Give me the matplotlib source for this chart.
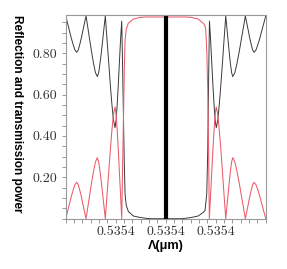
import numpy as np
import matplotlib
matplotlib.use("Agg")
import matplotlib.pyplot as plt
from matplotlib.ticker import MultipleLocator, FuncFormatter

# centre wavelength (um) and the wavelength step between labelled ticks
lam_centre = 0.5354
lam_step = 1e-5

# reflection (red), positions in tick-steps from the centre
refl_pos = [-2.000, -1.963, -1.927, -1.890, -1.853, -1.817, -1.780,
            -1.749, -1.718, -1.687, -1.656, -1.625, -1.594,
            -1.556, -1.519, -1.481, -1.443, -1.406, -1.368,
            -1.341, -1.315, -1.288, -1.261, -1.235, -1.208,
            -1.176, -1.143, -1.111, -1.079, -1.046, -1.014,
            -0.992, -0.969, -0.947, -0.925, -0.902, -0.880,
            -0.864, -0.848, -0.830, -0.814, -0.790, -0.748,
            -0.648, -0.514, -0.400,
            0.400, 0.514, 0.648, 0.748, 0.780, 0.800, 0.822, 0.840, 0.856,
            0.872, 0.895, 0.918, 0.941, 0.964, 0.987, 1.010,
            1.042, 1.073, 1.105, 1.137, 1.168, 1.200,
            1.223, 1.247, 1.270, 1.293, 1.317, 1.340,
            1.382, 1.424, 1.466, 1.508, 1.550, 1.592,
            1.621, 1.650, 1.679, 1.708, 1.737, 1.766,
            1.805, 1.844, 1.883, 1.922, 1.961, 2.000]
refl_val = [0.0, 0.035, 0.070, 0.106, 0.137, 0.164, 0.176,
            0.164, 0.137, 0.106, 0.070, 0.035, 0.0,
            0.059, 0.118, 0.177, 0.230, 0.274, 0.295,
            0.274, 0.230, 0.177, 0.118, 0.059, 0.0,
            0.108, 0.216, 0.324, 0.421, 0.502, 0.54,
            0.502, 0.421, 0.324, 0.216, 0.108, 0.0,
            0.23, 0.45, 0.70, 0.86, 0.915, 0.945,
            0.965, 0.973, 0.975,
            0.975, 0.973, 0.965, 0.945, 0.935, 0.915, 0.80, 0.62, 0.35,
            0.0, 0.108, 0.216, 0.324, 0.421, 0.502, 0.54,
            0.502, 0.421, 0.324, 0.216, 0.108, 0.0,
            0.059, 0.118, 0.177, 0.230, 0.274, 0.295,
            0.274, 0.230, 0.177, 0.118, 0.059, 0.0,
            0.035, 0.070, 0.106, 0.137, 0.164, 0.176,
            0.164, 0.137, 0.106, 0.070, 0.035, 0.0]

# transmission (black)
trans_pos = [-2.000, -1.963, -1.927, -1.890, -1.853, -1.817, -1.780,
             -1.749, -1.718, -1.687, -1.656, -1.625, -1.594,
             -1.556, -1.519, -1.481, -1.443, -1.406, -1.368,
             -1.341, -1.315, -1.288, -1.261, -1.235, -1.208,
             -1.176, -1.143, -1.111, -1.079, -1.046, -1.014,
             -0.992, -0.969, -0.947, -0.925, -0.902, -0.880,
             -0.864, -0.848, -0.830, -0.814, -0.790, -0.748,
             -0.648, -0.514, -0.400, -0.300,
             0.300, 0.400, 0.514, 0.648, 0.748, 0.786, 0.820, 0.840, 0.860,
             0.874, 0.895, 0.918, 0.941, 0.964, 0.987, 1.010,
             1.042, 1.073, 1.105, 1.137, 1.168, 1.200,
             1.223, 1.247, 1.270, 1.293, 1.317, 1.340,
             1.382, 1.424, 1.466, 1.508, 1.550, 1.592,
             1.621, 1.650, 1.679, 1.708, 1.737, 1.766,
             1.805, 1.844, 1.883, 1.922, 1.961, 2.000]
trans_val = [0.98, 0.945, 0.91, 0.874, 0.843, 0.816, 0.804,
             0.816, 0.843, 0.874, 0.91, 0.945, 0.98,
             0.921, 0.862, 0.803, 0.75, 0.706, 0.687,
             0.706, 0.75, 0.803, 0.862, 0.921, 0.98,
             0.872, 0.764, 0.656, 0.559, 0.478, 0.44,
             0.478, 0.559, 0.656, 0.764, 0.872, 0.955,
             0.75, 0.525, 0.28, 0.12, 0.065, 0.035,
             0.013, 0.006, 0.002, 0.0,
             0.0, 0.002, 0.006, 0.013, 0.030, 0.04, 0.12, 0.33, 0.72,
             0.955, 0.872, 0.764, 0.656, 0.559, 0.478, 0.44,
             0.478, 0.559, 0.656, 0.764, 0.872, 0.98,
             0.921, 0.862, 0.803, 0.75, 0.706, 0.687,
             0.706, 0.75, 0.803, 0.862, 0.921, 0.98,
             0.945, 0.91, 0.874, 0.843, 0.816, 0.804,
             0.816, 0.843, 0.874, 0.91, 0.945, 0.98]

yticks = [0.20, 0.40, 0.60, 0.80]

refl_lam = lam_centre + np.array(refl_pos) * lam_step
trans_lam = lam_centre + np.array(trans_pos) * lam_step

fig = plt.figure(figsize=(2.87, 2.69), dpi=100)
ax = fig.add_axes([0.229, 0.187, 0.697, 0.756])

ax.plot(trans_lam, trans_val, color='#3a3a3a', lw=0.7)
ax.plot(refl_lam, refl_val, color='#ec5a6a', lw=0.75)
ax.axvline(lam_centre, color='black', lw=3.0)

ax.set_xlim(lam_centre - 2 * lam_step, lam_centre + 2 * lam_step)
ax.set_ylim(0, 0.983)

ax.set_yticks(yticks)
ax.yaxis.set_minor_locator(MultipleLocator(0.05))
ax.set_xticks([lam_centre - lam_step, lam_centre, lam_centre + lam_step])
ax.xaxis.set_minor_locator(MultipleLocator(lam_step / 6))
ax.xaxis.set_major_formatter(FuncFormatter(lambda v, p: '%.4f' % v))
ax.yaxis.set_major_formatter(FuncFormatter(lambda v, p: '%.2f' % v))

for s in ax.spines.values():
    s.set_color('#999999')
    s.set_linewidth(0.8)
ax.tick_params(which='both', direction='out', length=3, width=0.6,
               color='#888888', labelcolor='#333333', pad=3)
ax.tick_params(axis='x', pad=2)
for lab in ax.get_xticklabels() + ax.get_yticklabels():
    lab.set_family('cmr10')
    lab.set_fontsize(10)

fig.text(16.7 / 287, 1 - 114 / 269, 'Reflection and transmission power',
         rotation=270, ha='center', va='center', fontsize=8.6,
         fontweight='bold', family='Liberation Sans')
fig.text(165.7 / 287, 1 - 246 / 269, 'Λ(μm)', ha='center', va='center',
         fontsize=9.1, fontweight='bold', family='Liberation Sans')

fig.savefig('out.png', dpi=100)
